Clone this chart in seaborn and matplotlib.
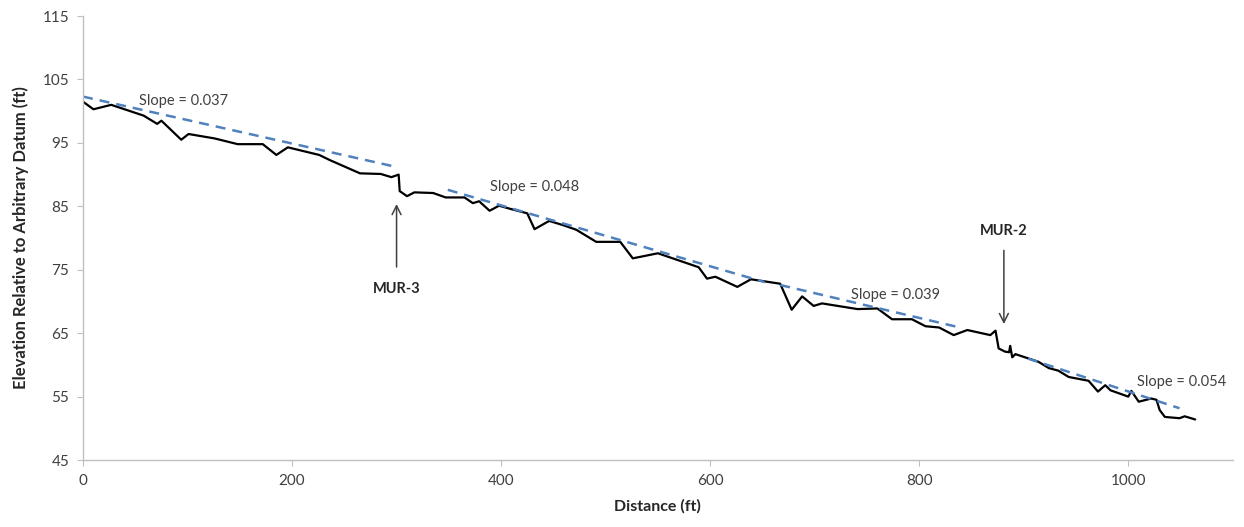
import matplotlib
matplotlib.use("Agg")
import matplotlib.pyplot as plt
import seaborn as sns
import pandas as pd

# Longitudinal profile of the channel bed
distance_ft = [0, 10, 27, 58, 71, 75, 94, 101, 126, 148, 172, 185, 196, 226,
               236, 265, 285, 295, 302, 303, 310, 317, 335, 347, 365, 373, 379,
               389, 398, 411, 425, 432, 446, 460, 472, 491, 514, 526, 550, 589,
               597, 605, 626, 639, 667, 678, 688, 699, 707, 741, 760, 774, 793,
               806, 819, 833, 846, 868, 873, 876, 882, 886, 887, 889, 892, 914,
               924, 933, 943, 962, 971, 978, 983, 1000, 1003, 1010, 1022, 1027,
               1030, 1035, 1049, 1054, 1064]
elevation_ft = [101.5, 100.3, 101.0, 99.3, 98.0, 98.5, 95.5, 96.4, 95.7, 94.8,
                94.8, 93.1, 94.3, 93.1, 92.3, 90.2, 90.1, 89.6, 90.0, 87.4, 86.6,
                87.2, 87.1, 86.4, 86.4, 85.5, 85.8, 84.3, 85.1, 84.5, 83.9, 81.4,
                82.7, 82.0, 81.3, 79.4, 79.4, 76.8, 77.6, 75.4, 73.6, 73.9, 72.3,
                73.5, 72.8, 68.7, 70.8, 69.3, 69.7, 68.8, 68.9, 67.2, 67.2, 66.1,
                65.9, 64.7, 65.5, 64.7, 65.4, 62.6, 62.1, 62.0, 63.0, 61.2, 61.7,
                60.5, 59.5, 59.1, 58.1, 57.5, 55.8, 56.8, 56.0, 55.0, 55.9, 54.2,
                54.7, 54.5, 52.9, 51.8, 51.6, 51.9, 51.4]

# Linear trend segments: start/end distance, starting elevation and slope
trend_start_ft = [0, 349, 667, 904]
trend_end_ft = [301, 652, 838, 1049]
trend_start_elev = [102.3, 87.6, 72.6, 61.0]
trend_slopes = [0.037, 0.048, 0.039, 0.054]
slope_label_pos = [(54, 101.6), (389, 88.0), (735, 71.0), (1008, 57.3)]

# Structure locations
structure_names = ["MUR-3", "MUR-2"]
structure_ft = [300, 881]
structure_tip_elev = [85.8, 66.0]
structure_tail_elev = [75.0, 78.5]

sns.set_theme(style="white")
plt.rcParams["font.family"] = ["Lato", "DejaVu Sans"]

fig = plt.figure(figsize=(12.44, 5.27), dpi=100)
ax = fig.add_axes([0.0667, 0.127, 0.9243, 0.8426])

profile = pd.DataFrame({"Distance": distance_ft, "Elevation": elevation_ft})
sns.lineplot(data=profile, x="Distance", y="Elevation", ax=ax,
             color="black", linewidth=1.6, sort=False)

for x0, x1, y0, s in zip(trend_start_ft, trend_end_ft, trend_start_elev, trend_slopes):
    seg = pd.DataFrame({"Distance": [x0, x1], "Elevation": [y0, y0 - s * (x1 - x0)]})
    sns.lineplot(data=seg, x="Distance", y="Elevation", ax=ax,
                 color="#4F81BD", linewidth=1.8, linestyle=(0, (4, 2.8)))

for (tx, ty), s in zip(slope_label_pos, trend_slopes):
    ax.text(tx, ty, f"Slope = {s:.3f}", fontsize=10.5, color="#404040",
            ha="left", va="center")

for name, x, tip, tail in zip(structure_names, structure_ft,
                              structure_tip_elev, structure_tail_elev):
    ax.annotate("", xy=(x, tip), xytext=(x, tail),
                arrowprops=dict(arrowstyle="->", color="#404040", lw=1.1,
                                mutation_scale=16))
    va = "top" if tail < tip else "bottom"
    off = -2.0 if tail < tip else 1.5
    ax.text(x, tail + off, name, fontsize=10.5, fontweight="bold",
            color="#262626", ha="center", va=va)

ax.set_xlim(0, 1100)
ax.set_ylim(45, 115)
ax.set_xticks(range(0, 1001, 200))
ax.set_yticks(range(45, 116, 10))
ax.tick_params(axis="both", direction="out", length=4, width=0.8,
               color="#BFBFBF", labelsize=11, labelcolor="#404040", pad=6)
ax.tick_params(axis="x", bottom=True)
ax.tick_params(axis="y", left=True)
for side in ["top", "right"]:
    ax.spines[side].set_visible(False)
for side in ["left", "bottom"]:
    ax.spines[side].set_color("#BFBFBF")
    ax.spines[side].set_linewidth(1.0)

ax.set_xlabel("Distance (ft)", fontsize=11.5, fontweight="bold", color="#262626",
              labelpad=8)
ax.set_ylabel("Elevation Relative to Arbitrary Datum (ft)", fontsize=12,
              fontweight="bold", color="#262626", labelpad=10)

fig.savefig("out.png", dpi=100)
